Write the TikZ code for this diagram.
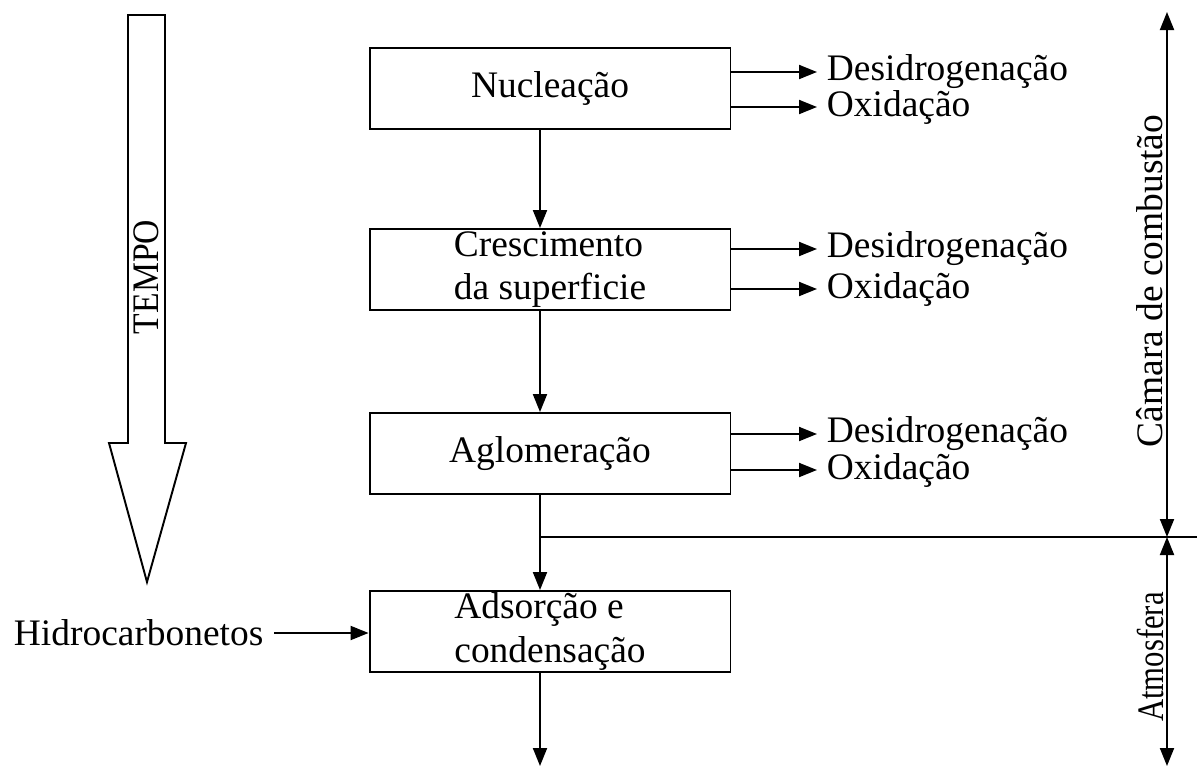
\documentclass[tikz,border=0pt]{standalone}
\usepackage{fontspec}
\setmainfont{Liberation Serif}
\usetikzlibrary{arrows.meta}
\begin{document}
\begin{tikzpicture}[x=0.02cm, y=-0.02cm, >={Triangle[length=0.36cm,width=0.28cm]},
	font=\fontsize{21.3pt}{24.5pt}\selectfont, line width=1.1pt, line join=miter,
	etapa/.style={draw, rectangle, minimum width=7.22cm, minimum height=1.62cm, inner sep=0pt, align=left},
	saida/.style={anchor=west, inner xsep=0.18cm, inner ysep=0pt},
	rotulo/.style={rotate=90, inner sep=0pt}]
	\useasboundingbox (0,0) rectangle (1197,768);
	\def\xesp{540} % eixo das setas
	% seta do tempo
	\draw (128,15) -- (165,15) -- (165,443) -- (186,443) -- (147,582) -- (109,443) -- (128,443) -- cycle;
	\node[rotulo] (tempo) at (146.5,277) {\scalebox{0.9}[1]{TEMPO}};
	% etapas
	\node[etapa] (nuc) at (550,88.5) {Nucleação};
	\node[etapa] (cre) at (550,269.5) {Crescimento\\da superficie};
	\node[etapa] (agl) at (550,453.5) {Aglomeração};
	\node[etapa] (ads) at (550,631.5) {Adsorção e\\condensação};
	\coordinate (esp) at (\xesp,0);
	\coordinate (div) at (\xesp,537);
	\coordinate (fim) at (\xesp,766);
	\coordinate (borda) at (1197,537);
	\draw[->] (nuc.south -| esp) -- (cre.north -| esp);
	\draw[->] (cre.south -| esp) -- (agl.north -| esp);
	\draw[->] (agl.south -| esp) -- (ads.north -| esp);
	\draw[->] (ads.south -| esp) -- (fim);
	\draw (div) -- (borda);
	% saidas laterais
	\foreach \e/\ya/\yb in {nuc/72/107, cre/249/289, agl/434/470}{
		\node[saida] (\e-d) at (817,\ya) {Desidrogenação};
		\node[saida] (\e-o) at (817,\yb) {Oxidação};
		\draw[->] (\e.east |- \e-d.west) -- (\e-d.west);
		\draw[->] (\e.east |- \e-o.west) -- (\e-o.west);
	}
	% entrada
	\node[anchor=west, inner xsep=0.2cm] (hid) at (3,633) {Hidrocarbonetos};
	\draw[->] (hid.east) -- (hid.east -| ads.west);
	% escala lateral
	\coordinate (ctop) at (1167,12);
	\coordinate (cmid) at (1167,537);
	\coordinate (cbot) at (1167,766);
	\draw[<->] (ctop) -- (cmid);
	\draw[<->] (cmid) -- (cbot);
	\node[rotulo] (camara) at (1150,281) {Câmara de combustão};
	\node[rotulo] (atm) at (1150,657) {\scalebox{0.82}[1]{Atmosfera}};
\end{tikzpicture}
\end{document}
